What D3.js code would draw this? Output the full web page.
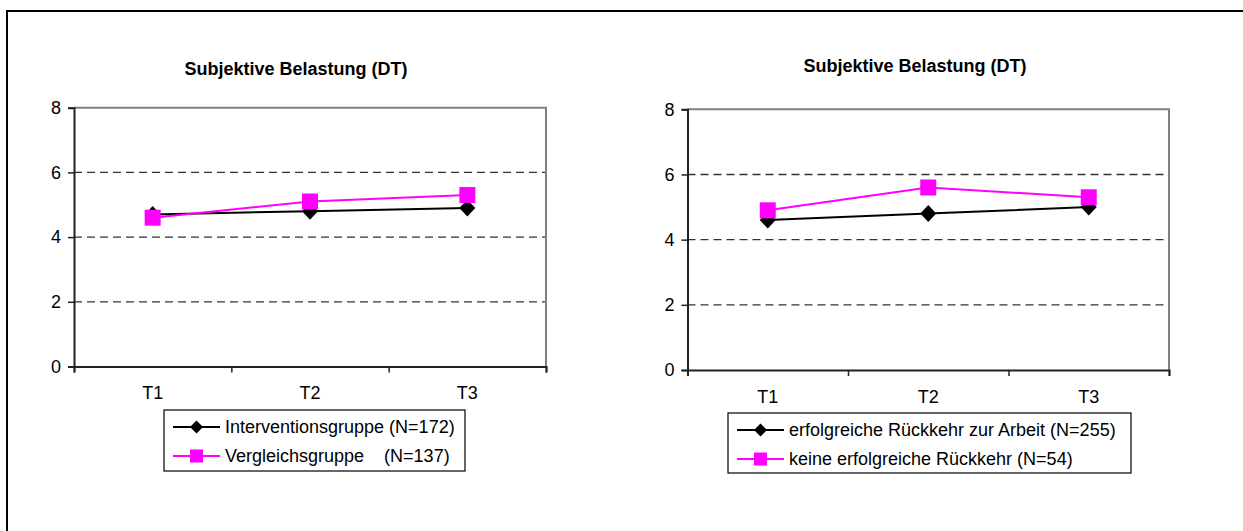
<!DOCTYPE html>
<html>
<head>
<meta charset="utf-8">
<script src="https://cdn.jsdelivr.net/npm/d3@7"></script>
<style>
  body { margin: 0; background: #fff; }
  svg { display: block; font-family: "Liberation Sans", Arial, sans-serif; }
  text { white-space: pre; }
</style>
</head>
<body>
<svg id="chart" width="1243" height="531"></svg>
<script>
// data
var categories = ["T1", "T2", "T3"];
var yTicks = [0, 2, 4, 6, 8];
var chartTitle = "Subjektive Belastung (DT)";

// left chart
var interventionValues = [4.7, 4.8, 4.9];
var vergleichValues = [4.6, 5.1, 5.3];
var leftNames = ["Interventionsgruppe (N=172)", "Vergleichsgruppe    (N=137)"];

// right chart
var erfolgreichValues = [4.6, 4.8, 5.0];
var keineValues = [4.9, 5.6, 5.3];
var rightNames = ["erfolgreiche Rückkehr zur Arbeit (N=255)", "keine erfolgreiche Rückkehr (N=54)"];

var svg = d3.select("#chart");

// outer frame (top + left edge only visible)
svg.append("path")
    .attr("d", "M7,531 V11 H1243")
    .attr("fill", "none")
    .attr("stroke", "#000")
    .attr("stroke-width", 2);

function drawChart(opts) {
    var g = svg.append("g");

    var x = d3.scaleBand().domain(categories).range([opts.left, opts.right]);
    var xEdge = d3.scaleLinear().domain([0, categories.length]).range([opts.left, opts.right]);
    var y = d3.scaleLinear().domain([0, 8]).range([opts.bottom, opts.top]);

    // title
    g.append("text")
        .attr("x", opts.titleX).attr("y", opts.titleY)
        .attr("text-anchor", "middle")
        .attr("font-size", 18).attr("font-weight", "bold")
        .text(chartTitle);

    // dashed gridlines
    g.selectAll(".grid").data([2, 4, 6]).enter()
        .append("line")
        .attr("x1", opts.left).attr("x2", opts.right)
        .attr("y1", function(d){ return y(d); })
        .attr("y2", function(d){ return y(d); })
        .attr("stroke", "#333")
        .attr("stroke-width", 1.3)
        .attr("stroke-dasharray", "8,5");

    // gray top/right border of plot
    g.append("path")
        .attr("d", "M" + opts.left + "," + opts.top + " H" + opts.right + " V" + opts.bottom)
        .attr("fill", "none")
        .attr("stroke", "#808080")
        .attr("stroke-width", 2);

    // y axis
    var yAxis = g.append("g")
        .attr("transform", "translate(" + opts.left + ",0)")
        .call(d3.axisLeft(y).tickValues(yTicks).tickSize(6).tickPadding(7).tickFormat(d3.format("d")));
    yAxis.select(".domain").attr("stroke", "#222").attr("stroke-width", 2);
    yAxis.selectAll(".tick line").attr("stroke", "#222").attr("stroke-width", 1.5);
    yAxis.selectAll(".tick text").attr("font-size", 18).attr("fill", "#000")
        .attr("font-family", "Liberation Sans, Arial, sans-serif");

    // x axis: boundary ticks + centered labels
    var xTicks = g.append("g")
        .attr("transform", "translate(0," + opts.bottom + ")")
        .call(d3.axisBottom(xEdge).tickValues(d3.range(categories.length + 1)).tickSize(6).tickFormat(""));
    xTicks.select(".domain").attr("stroke", "#222").attr("stroke-width", 2);
    xTicks.selectAll(".tick line").attr("stroke", "#222").attr("stroke-width", 1.5);

    var xLabels = g.append("g")
        .attr("transform", "translate(0," + opts.bottom + ")")
        .call(d3.axisBottom(x).tickSize(0).tickPadding(20));
    xLabels.select(".domain").remove();
    xLabels.selectAll(".tick text").attr("font-size", 18).attr("fill", "#000")
        .attr("font-family", "Liberation Sans, Arial, sans-serif");

    var line = d3.line()
        .x(function(d, i){ return x(categories[i]) + x.bandwidth() / 2; })
        .y(function(d){ return y(d); });

    var series = [
        {values: opts.blackValues, color: "#000", shape: "diamond"},
        {values: opts.pinkValues, color: "#ff00ff", shape: "square"}
    ];

    series.forEach(function(s){
        g.append("path")
            .datum(s.values)
            .attr("d", line)
            .attr("fill", "none")
            .attr("stroke", s.color)
            .attr("stroke-width", 2);
        g.selectAll(null).data(s.values).enter()
            .append("path")
            .attr("transform", function(d, i){
                return "translate(" + (x(categories[i]) + x.bandwidth() / 2) + "," + y(d) + ")";
            })
            .attr("d", s.shape === "square" ? "M-8,-8H8V8H-8Z" : "M0,-8.5L8,0L0,8.5L-8,0Z")
            .attr("fill", s.color);
    });

    // legend
    var lg = g.append("g");
    lg.append("rect")
        .attr("x", opts.legend.x).attr("y", opts.legend.y)
        .attr("width", opts.legend.w).attr("height", opts.legend.h)
        .attr("fill", "#fff").attr("stroke", "#000").attr("stroke-width", 1.2);

    series.forEach(function(s, i){
        var cy = opts.legend.y + 17 + i * 29;
        var lx = opts.legend.x + 9;
        lg.append("line")
            .attr("x1", lx).attr("x2", lx + 47)
            .attr("y1", cy).attr("y2", cy)
            .attr("stroke", s.color).attr("stroke-width", 2);
        lg.append("path")
            .attr("transform", "translate(" + (lx + 23.5) + "," + cy + ")")
            .attr("d", s.shape === "square" ? "M-6.5,-6.5H6.5V6.5H-6.5Z" : "M0,-6.5L6.5,0L0,6.5L-6.5,0Z")
            .attr("fill", s.color);
        lg.append("text")
            .attr("x", lx + 52).attr("y", cy)
            .attr("dy", "0.36em")
            .attr("font-size", 18)
            .text(opts.names[i]);
    });
}

drawChart({
    left: 74, right: 546, top: 107.7, bottom: 366.5,
    titleX: 296, titleY: 75,
    blackValues: interventionValues, pinkValues: vergleichValues,
    names: leftNames,
    legend: {x: 164, y: 410, w: 301, h: 61}
});

drawChart({
    left: 687.5, right: 1169, top: 109.3, bottom: 370,
    titleX: 915, titleY: 72,
    blackValues: erfolgreichValues, pinkValues: keineValues,
    names: rightNames,
    legend: {x: 728, y: 413, w: 403, h: 60}
});
</script>
</body>
</html>
